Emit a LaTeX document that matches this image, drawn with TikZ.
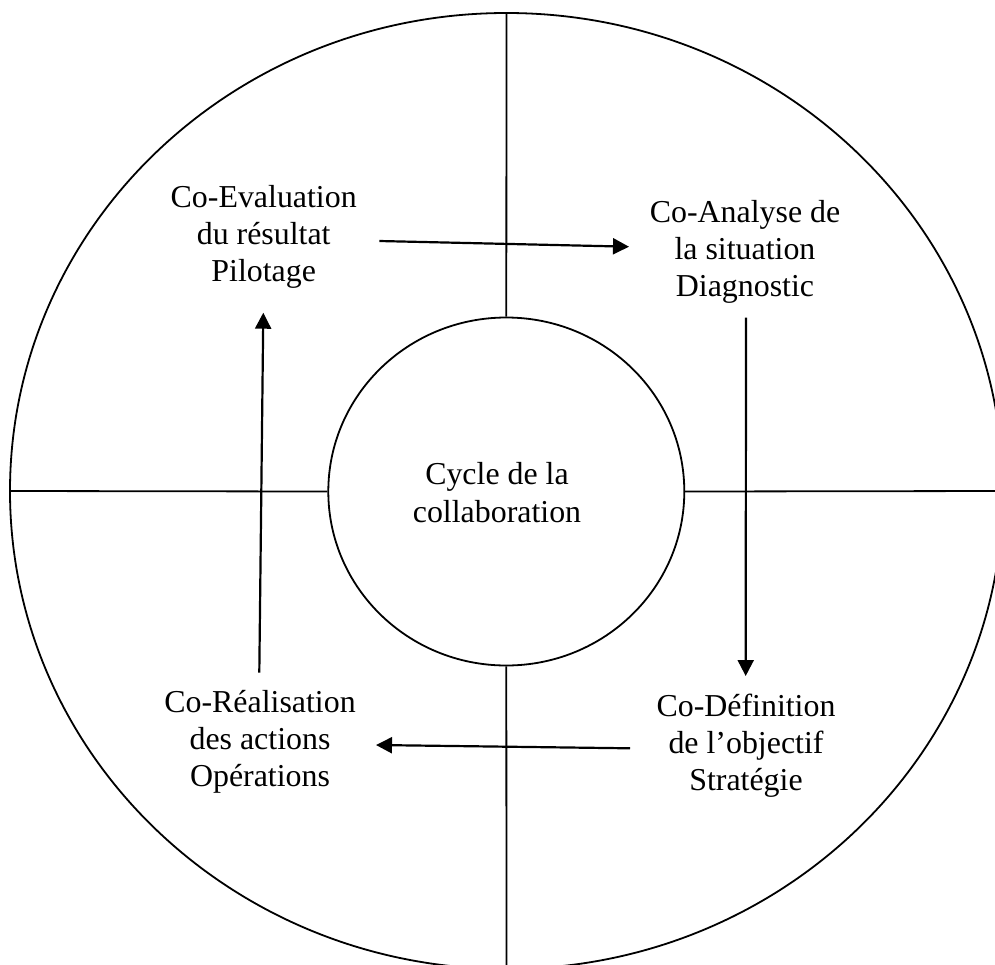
\documentclass[tikz,border=0pt]{standalone}
\usepackage{fontspec}
\setmainfont{Liberation Serif}
\usetikzlibrary{arrows.meta,shapes.geometric}
\tikzset{
  lbl/.style={align=center, inner sep=0pt, anchor=base, font=\fontsize{31.9}{36.9}\selectfont},
  ring/.style={draw, ellipse, line width=1.8pt, inner sep=0pt},
  divider/.style={line width=1.8pt},
  flow/.style={line width=2.2pt, -{Triangle[length=16pt,width=16pt]}}
}
\begin{document}
\begin{tikzpicture}[x=1pt,y=-1pt]
\useasboundingbox (0,0) rectangle (995,964);
\clip (0,0) rectangle (995,964);
\node[ring, minimum width=993pt, minimum height=956pt] (rim) at (506.5,491) {};
\node[ring, minimum width=356pt, minimum height=348pt] (hub) at (506.3,491.5) {};
\draw[divider] (rim.north) -- (hub.north);
\draw[divider] (hub.south) -- (rim.south);
\draw[divider] (rim.west) -- (hub.west);
\draw[divider] (hub.east) -- (rim.east);
\node[lbl, font=\fontsize{31.9}{38.5}\selectfont] (hubtext) at (497,522.7) {Cycle de la\\collaboration};
\node[lbl] (eval) at (263.7,281) {Co-Evaluation\\du résultat\\Pilotage};
\node[lbl] (analyse) at (745,296) {Co-Analyse de\\la situation\\Diagnostic};
\node[lbl] (defin) at (746,790) {Co-Définition\\de l’objectif\\Stratégie};
\node[lbl] (realis) at (260,786.7) {Co-Réalisation\\des actions\\Opérations};
\coordinate (a1s) at (379.3,241);
\coordinate (a1e) at (629,246.7);
\coordinate (a2s) at (746,317.7);
\coordinate (a2e) at (745.7,676);
\coordinate (a3s) at (630,748.3);
\coordinate (a3e) at (376,745);
\coordinate (a4s) at (259.3,672.7);
\coordinate (a4e) at (263.3,312.7);
\draw[flow] (a1s) -- (a1e);
\draw[flow] (a2s) -- (a2e);
\draw[flow] (a3s) -- (a3e);
\draw[flow] (a4s) -- (a4e);
\end{tikzpicture}
\end{document}
